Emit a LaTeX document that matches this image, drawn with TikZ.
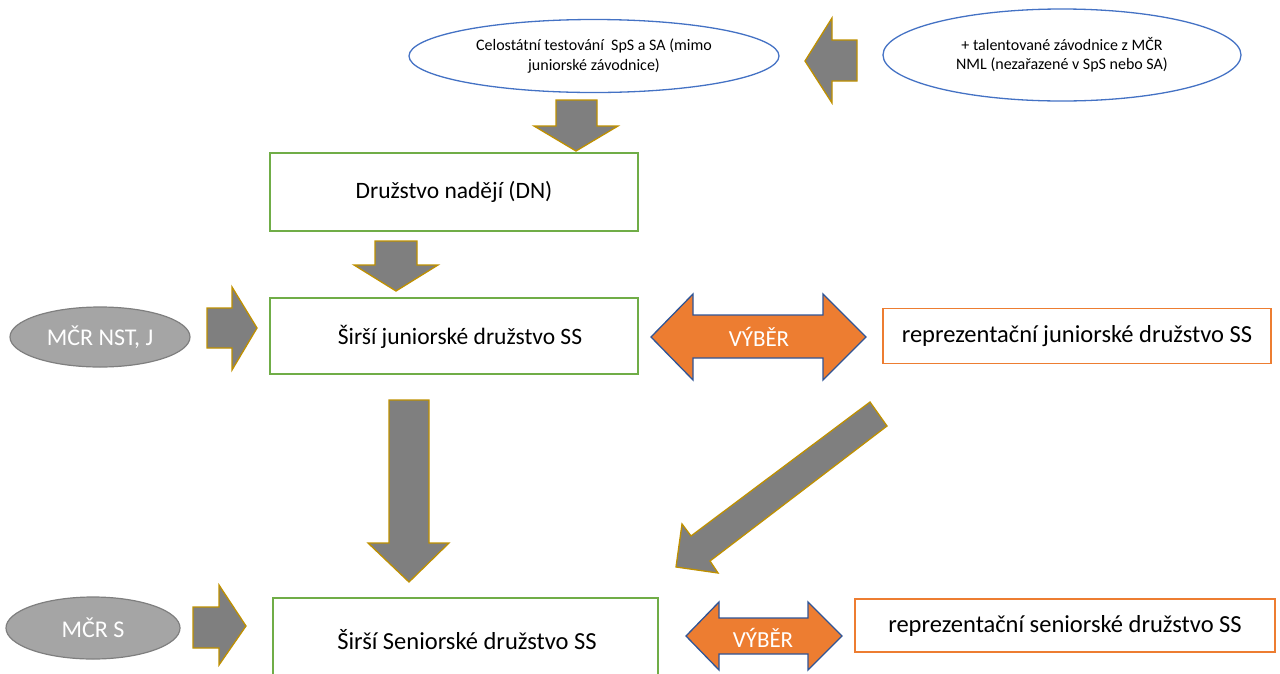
\documentclass[tikz,border=0pt]{standalone}
\usepackage{fontspec}
\setmainfont{Carlito}
\usetikzlibrary{shapes.geometric}
\definecolor{boxgreen}{HTML}{70AD47}
\definecolor{boxorange}{HTML}{ED7D31}
\definecolor{ellblue}{HTML}{4472C4}
\definecolor{arrgray}{HTML}{7F7F7F}
\definecolor{arrgold}{HTML}{BF9000}
\definecolor{ellgray}{HTML}{A5A5A5}
\definecolor{ellgrayline}{HTML}{7F7F7F}
\definecolor{darkblue}{HTML}{2F5597}
\tikzset{
  greenbox/.style={draw=boxgreen, line width=1.3pt, rectangle, inner sep=0pt, font=\fontsize{23.5}{28}\selectfont},
  orangebox/.style={draw=boxorange, line width=1.5pt, rectangle, inner sep=0pt, font=\fontsize{24.5}{29}\selectfont},
  blueell/.style={draw=ellblue, line width=1.3pt, ellipse, inner sep=0pt, align=center},
  grayell/.style={draw=ellgrayline, fill=ellgray, line width=1.2pt, ellipse, inner sep=0pt, text=white, font=\fontsize{24}{28}\selectfont},
  blockarrow/.style={fill=arrgray, draw=arrgold, line width=1.3pt, line join=miter},
  selarrow/.style={fill=boxorange, draw=darkblue, line width=1.3pt, line join=miter},
  sellabel/.style={text=white, inner sep=0pt, font=\fontsize{23}{26}\selectfont}
}
\begin{document}
\begin{tikzpicture}[x=1pt,y=-1pt]
\useasboundingbox (0,0) rectangle (1280,673);
\clip (0,0) rectangle (1280,673);

% ellipses at top
\node[blueell, minimum width=370pt, minimum height=73pt, font=\fontsize{16}{20}\selectfont] (test) at (594,56)
  {Celostátní testování\ \ SpS a SA (mimo\\juniorské závodnice)};
\node[blueell, minimum width=358pt, minimum height=92pt, font=\fontsize{16}{19}\selectfont] (tal) at (1062,55)
  {+ talentované závodnice z MČR\\NML (nezařazené v SpS nebo SA)};

% boxes
\node[greenbox, minimum width=368pt, minimum height=78pt] (dn) at (454,192) {Družstvo nadějí (DN)};
\node[greenbox, minimum width=368pt, minimum height=76pt] (jun) at (454,336) {};
\node[font=\fontsize{23.5}{28}\selectfont] (juntext) at (460,337) {Širší juniorské družstvo SS};
\node[greenbox, minimum width=385pt, minimum height=84pt] (sen) at (465.5,640) {};
\node[font=\fontsize{24.5}{29}\selectfont] (sentext) at (467,640) {Širší Seniorské družstvo SS};
\node[orangebox, minimum width=388pt, minimum height=55pt] (reprj) at (1077,336) {reprezentační juniorské družstvo SS};
\node[orangebox, minimum width=420pt, minimum height=53pt] (reprs) at (1065,625.5) {reprezentační seniorské družstvo SS};

% gray ellipses
\node[grayell, minimum width=180pt, minimum height=60pt] (nst) at (100,337) {MČR NST, J};
\node[grayell, minimum width=174pt, minimum height=62pt] (ms) at (93,628) {MČR S};

% block arrows
\filldraw[blockarrow] (556,100) -- (597,100) -- (597,126) -- (618,126) -- (576,151) -- (534,126) -- (556,126) -- cycle;
\filldraw[blockarrow] (857,40) -- (857,81) -- (832,81) -- (832,103) -- (805,61) -- (832,18) -- (832,40) -- cycle;
\filldraw[blockarrow] (375,241) -- (417,241) -- (417,265) -- (438,265) -- (396,291) -- (354,265) -- (375,265) -- cycle;
\filldraw[blockarrow] (207,308) -- (232,308) -- (232,287) -- (257,328) -- (232,370) -- (232,348) -- (207,348) -- cycle;
\filldraw[blockarrow] (389,400) -- (429,400) -- (429,543) -- (449,543) -- (409,582) -- (368,543) -- (389,543) -- cycle;
\filldraw[blockarrow] (870,402) -- (887,426) -- (710,561) -- (718,573) -- (676,567) -- (682,524) -- (691,536) -- cycle;
\filldraw[blockarrow] (193,607) -- (219,607) -- (219,585) -- (246,626) -- (219,665) -- (219,648) -- (193,648) -- cycle;

% selection double arrows
\filldraw[selarrow] (651,337) -- (693,294) -- (693,315) -- (823,315) -- (823,294) -- (866,337) -- (823,380) -- (823,358) -- (693,358) -- (693,380) -- cycle;
\node[sellabel] (vj) at (759,337) {VÝBĚR};
\filldraw[selarrow] (686,636) -- (719,602) -- (719,618) -- (808,618) -- (808,602) -- (842,636) -- (808,670) -- (808,654) -- (719,654) -- (719,670) -- cycle;
\node[sellabel] (vs) at (763,638) {VÝBĚR};
\end{tikzpicture}
\end{document}
